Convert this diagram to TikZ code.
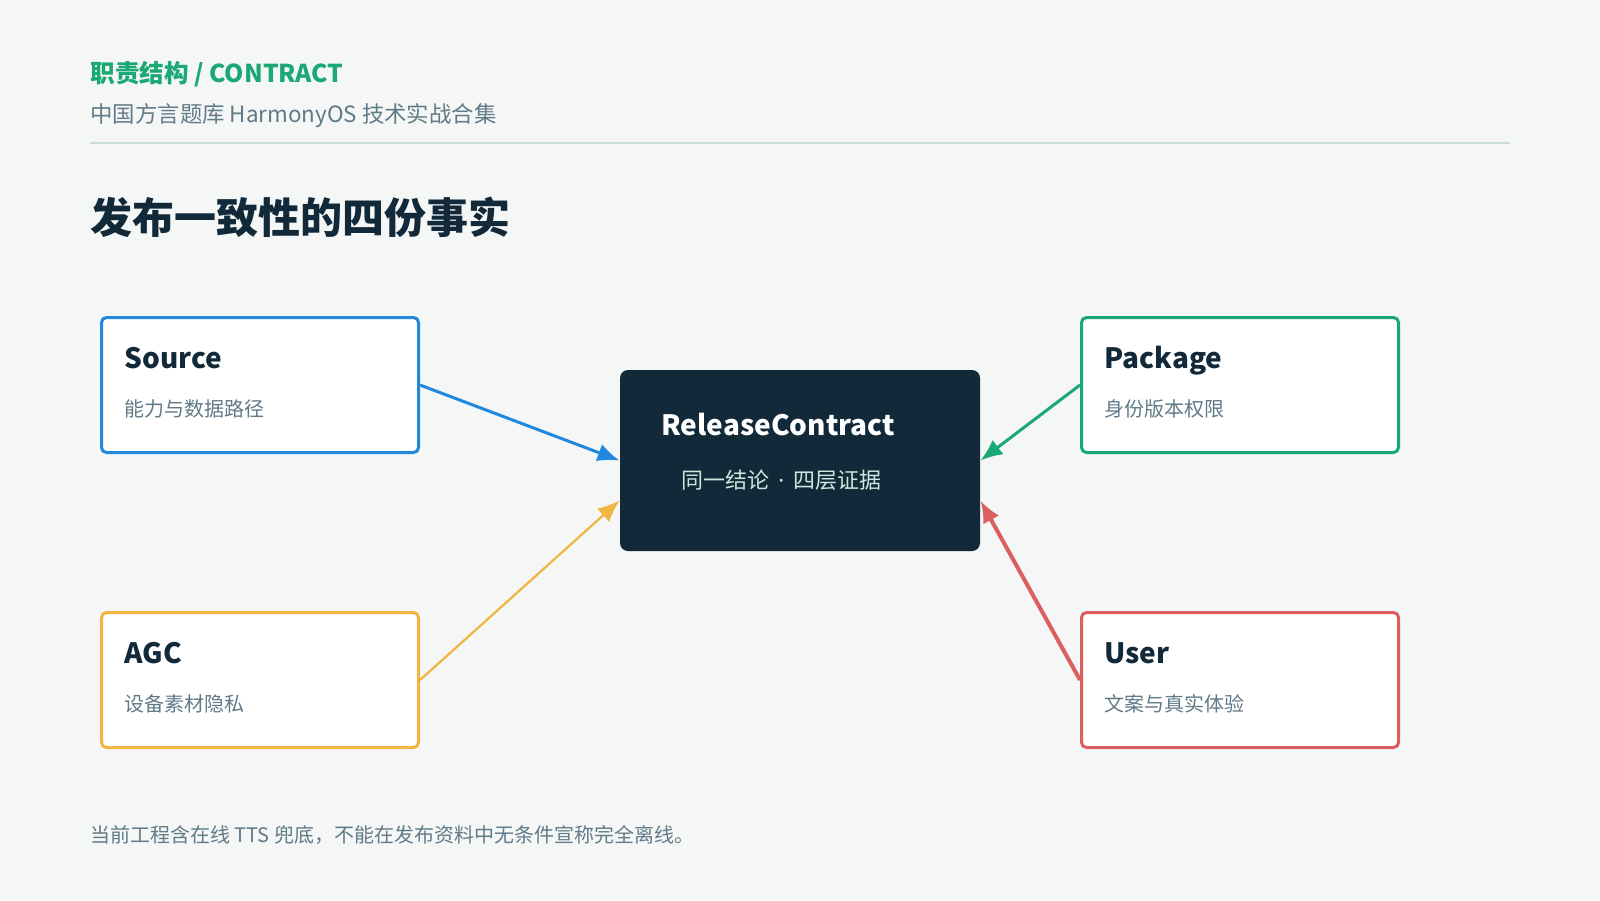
\documentclass[tikz,border=0pt]{standalone}
\usepackage{fontspec}
\setmainfont{Noto Sans CJK SC}
\newfontfamily\dotfont{Noto Sans}
\usetikzlibrary{arrows.meta}

\definecolor{bgpage}{HTML}{F4F7F6}
\definecolor{navy}{HTML}{12293A}
\definecolor{leafgreen}{HTML}{1AA874}
\definecolor{skyblue}{HTML}{2288DD}
\definecolor{amber}{HTML}{F2B540}
\definecolor{coral}{HTML}{DB5F5F}
\definecolor{slate}{HTML}{617A88}
\definecolor{rulegray}{HTML}{C9DCD5}
\definecolor{mint}{HTML}{CFE6DE}

\tikzset{
    card/.style={draw=#1, line width=1.5pt, fill=white, rounded corners=2.5pt,
        minimum width=158.5pt, minimum height=67.5pt, inner sep=0pt},
    cardtitle/.style={anchor=base west, inner sep=0pt, text=navy,
        font=\fontsize{14pt}{16pt}\selectfont\bfseries},
    cardsub/.style={anchor=base west, inner sep=0pt, text=slate,
        font=\fontsize{10pt}{12pt}\selectfont},
    flow/.style={-{Latex[length=11pt,width=9pt]}},
}

\begin{document}
\begin{tikzpicture}[x=0.5pt, y=-0.5pt]

    % page
    \fill[bgpage] (0,0) rectangle (1600,900);

    % header
    \node[anchor=base west, inner sep=0pt, text=leafgreen,
        font=\fontsize{12.3pt}{14pt}\selectfont\bfseries] (kicker) at (90,82) {职责结构 / CONTRACT};
    \node[anchor=base west, inner sep=0pt, text=slate,
        font=\fontsize{11.2pt}{13pt}\selectfont] (series) at (90,122) {中国方言题库 HarmonyOS 技术实战合集};
    \draw[rulegray, line width=1pt] (90,142.5) -- (1510,142.5);
    \node[anchor=base west, inner sep=0pt, text=navy,
        font=\fontsize{21pt}{24pt}\selectfont\bfseries] (headline) at (90,233) {发布一致性的四份事实};

    % centre
    \node[fill=navy, rounded corners=4pt, minimum width=180pt, minimum height=90.5pt,
        inner sep=0pt] (core) at (800,460.5) {};
    \node[anchor=base west, inner sep=0pt, text=white,
        font=\fontsize{14pt}{16pt}\selectfont\bfseries] (coreT) at (661,435) {ReleaseContract};
    \node[anchor=base west, inner sep=0pt, text=mint,
        font=\fontsize{11pt}{13pt}\selectfont] (coreS) at (681,488) {同一结论\hspace{4.5pt}{\dotfont·}\hspace{4.5pt}四层证据};

    % four cards
    \node[card=skyblue] (src) at (260,385) {};
    \node[cardtitle] (srcT) at (124,368) {Source};
    \node[cardsub] (srcS) at (124,416) {能力与数据路径};

    \node[card=leafgreen] (pkg) at (1240,385) {};
    \node[cardtitle] (pkgT) at (1104,368) {Package};
    \node[cardsub] (pkgS) at (1104,416) {身份版本权限};

    \node[card=amber] (agc) at (260,680) {};
    \node[cardtitle] (agcT) at (124,663) {AGC};
    \node[cardsub] (agcS) at (124,711) {设备素材隐私};

    \node[card=coral] (usr) at (1240,680) {};
    \node[cardtitle] (usrT) at (1104,663) {User};
    \node[cardsub] (usrS) at (1104,711) {文案与真实体验};

    % links
    \draw[flow, skyblue, line width=1.5pt] (src.east) -- (core.west);
    \draw[flow, amber, line width=1.1pt] (agc.east) -- ([yshift=-20pt]core.west);
    \draw[flow, leafgreen, line width=1.5pt] (pkg.west) -- (core.east);
    \draw[flow, coral, line width=2pt] (usr.west) -- ([yshift=-20pt]core.east);

    % footnote
    \node[anchor=base west, inner sep=0pt, text=slate,
        font=\fontsize{10pt}{12pt}\selectfont] (note) at (90,842) {当前工程含在线 TTS 兜底，不能在发布资料中无条件宣称完全离线。};

\end{tikzpicture}
\end{document}
